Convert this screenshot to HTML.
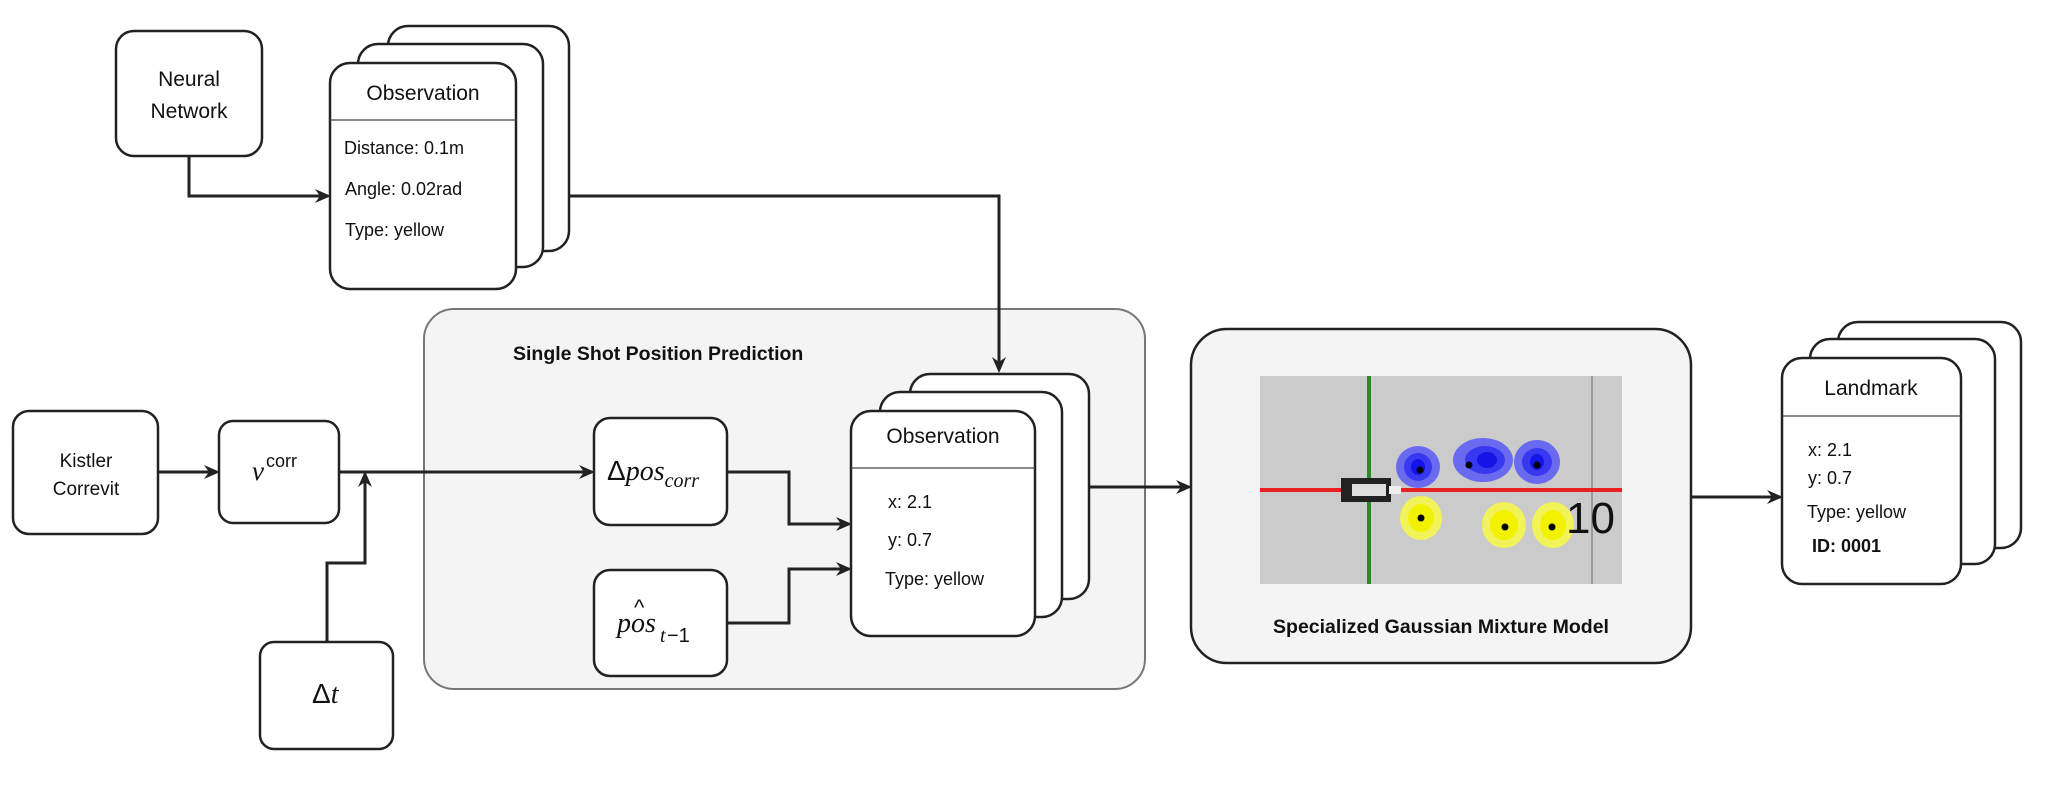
<!DOCTYPE html>
<html><head><meta charset="utf-8"><style>
html,body{margin:0;padding:0;background:#fff;}
svg text{font-family:"Liberation Sans",sans-serif;fill:#111;}
.m{font-family:"Liberation Serif",serif;font-style:italic;}
</style></head><body>
<svg width="2057" height="788" viewBox="0 0 2057 788" xmlns="http://www.w3.org/2000/svg">
<defs>
<marker id="a" markerWidth="16" markerHeight="16" refX="13" refY="8" orient="auto" markerUnits="userSpaceOnUse">
<path d="M0,1 L16,8 L0,15 L5,8 Z" fill="#222"/></marker>
</defs>
<g stroke="#222" stroke-width="2.5" fill="#fff">
<rect x="116" y="31" width="146" height="125" rx="18"/>
<rect x="388" y="26" width="181" height="225" rx="20"/>
<rect x="358" y="44" width="185" height="223" rx="20"/>
<rect x="330" y="63" width="186" height="226" rx="20"/>
<rect x="424" y="309" width="721" height="380" rx="30" fill="#f4f4f4" stroke="#777" stroke-width="2"/>
<rect x="910" y="374" width="179" height="225" rx="20"/>
<rect x="880" y="392" width="182" height="225" rx="20"/>
<rect x="851" y="411" width="184" height="225" rx="20"/>
<rect x="13" y="411" width="145" height="123" rx="16"/>
<rect x="219" y="421" width="120" height="102" rx="14"/>
<rect x="260" y="642" width="133" height="107" rx="14"/>
<rect x="594" y="418" width="133" height="107" rx="16"/>
<rect x="594" y="570" width="133" height="106" rx="16"/>
<rect x="1191" y="329" width="500" height="334" rx="36" fill="#f4f4f4"/>
<rect x="1838" y="322" width="183" height="226" rx="20"/>
<rect x="1810" y="339" width="185" height="225" rx="20"/>
<rect x="1782" y="358" width="179" height="226" rx="20"/>
</g>
<g stroke="#444" stroke-width="1.2">
<line x1="330" y1="120" x2="516" y2="120"/>
<line x1="851" y1="468" x2="1035" y2="468"/>
<line x1="1782" y1="416" x2="1961" y2="416"/>
</g>
<g stroke="#222" stroke-width="3" fill="none">
<path d="M189,156 V196 H328" marker-end="url(#a)"/>
<path d="M569,196 H999 V370" marker-end="url(#a)"/>
<path d="M158,472 H217" marker-end="url(#a)"/>
<path d="M339,472 H592" marker-end="url(#a)"/>
<path d="M327,642 V563 H365 V474" marker-end="url(#a)"/>
<path d="M727,472 H789 V524 H849" marker-end="url(#a)"/>
<path d="M727,623 H789 V569 H849" marker-end="url(#a)"/>
<path d="M1089,487 H1189" marker-end="url(#a)"/>
<path d="M1691,497 H1780" marker-end="url(#a)"/>
</g>
<text x="189" y="86" font-size="21" text-anchor="middle">Neural</text>
<text x="189" y="118" font-size="21" text-anchor="middle">Network</text>
<text x="423" y="100" font-size="21" text-anchor="middle">Observation</text>
<text x="344" y="154" font-size="18">Distance: 0.1m</text>
<text x="345" y="195" font-size="18">Angle: 0.02rad</text>
<text x="345" y="236" font-size="18">Type: yellow</text>
<text x="513" y="360" font-size="19.5" font-weight="bold">Single Shot Position Prediction</text>
<text x="943" y="443" font-size="21" text-anchor="middle">Observation</text>
<text x="888" y="508" font-size="18">x: 2.1</text>
<text x="888" y="546" font-size="18">y: 0.7</text>
<text x="885" y="585" font-size="18">Type: yellow</text>
<text x="86" y="467" font-size="19" text-anchor="middle">Kistler</text>
<text x="86" y="495" font-size="19" text-anchor="middle">Correvit</text>
<text x="252" y="480" font-size="27" class="m">v</text>
<text x="266" y="467" font-size="18" font-family="Liberation Serif">corr</text>
<text x="312" y="703" font-size="28" font-family="Liberation Serif">Δ<tspan class="m">t</tspan></text>
<text x="607" y="480" font-size="28" font-family="Liberation Serif">Δ<tspan class="m">pos</tspan><tspan class="m" font-size="20" dy="7">corr</tspan></text>
<text x="617" y="632" font-size="28" class="m">pos</text>
<text x="634" y="615" font-size="22" font-family="Liberation Serif">^</text>
<text x="660" y="642" font-size="20" class="m">t</text>
<text x="667" y="642" font-size="20" font-family="Liberation Serif">−1</text>
<rect x="1260" y="376" width="362" height="208" fill="#cbcbcb"/>
<line x1="1369" y1="376" x2="1369" y2="584" stroke="#2a8a2a" stroke-width="4"/>
<line x1="1592" y1="376" x2="1592" y2="584" stroke="#999" stroke-width="2"/>
<line x1="1260" y1="490" x2="1622" y2="490" stroke="#e82020" stroke-width="4"/>
<g fill="#6a6af0"><ellipse cx="1418" cy="467" rx="22" ry="21"/><ellipse cx="1483" cy="460" rx="30" ry="22"/><ellipse cx="1537" cy="462" rx="23" ry="22"/></g>
<g fill="#3838f0"><ellipse cx="1418" cy="467" rx="14" ry="14"/><ellipse cx="1485" cy="460" rx="20" ry="14"/><ellipse cx="1537" cy="462" rx="15" ry="14"/></g>
<g fill="#1414e8"><ellipse cx="1418" cy="467" rx="7" ry="8"/><ellipse cx="1487" cy="460" rx="10" ry="8"/><ellipse cx="1537" cy="462" rx="7" ry="8"/></g>
<g fill="#f2f25a"><ellipse cx="1421" cy="518" rx="21" ry="22"/><ellipse cx="1504" cy="525" rx="22" ry="23"/><ellipse cx="1553" cy="525" rx="21" ry="23"/></g>
<g fill="#f2f200"><ellipse cx="1421" cy="518" rx="13" ry="14"/><ellipse cx="1504" cy="525" rx="14" ry="15"/><ellipse cx="1553" cy="525" rx="13" ry="15"/></g>
<g fill="#000"><circle cx="1420" cy="470" r="3.5"/><circle cx="1469" cy="465" r="3.5"/><circle cx="1537" cy="465" r="3.5"/><circle cx="1421" cy="518" r="3.5"/><circle cx="1505" cy="527" r="3.5"/><circle cx="1552" cy="527" r="3.5"/></g>
<rect x="1341" y="478" width="50" height="24" fill="#222"/>
<rect x="1352" y="484" width="34" height="12" fill="#ddd"/>
<rect x="1389" y="486" width="12" height="8" fill="#eee"/>
<text x="1566" y="533" font-size="44" font-family="Liberation Serif">10</text>
<text x="1441" y="633" font-size="19.5" font-weight="bold" text-anchor="middle">Specialized Gaussian Mixture Model</text>
<text x="1871" y="395" font-size="21" text-anchor="middle">Landmark</text>
<text x="1808" y="456" font-size="18">x: 2.1</text>
<text x="1808" y="484" font-size="18">y: 0.7</text>
<text x="1807" y="518" font-size="18">Type: yellow</text>
<text x="1812" y="552" font-size="18" font-weight="bold">ID: 0001</text>
</svg>
</body></html>
